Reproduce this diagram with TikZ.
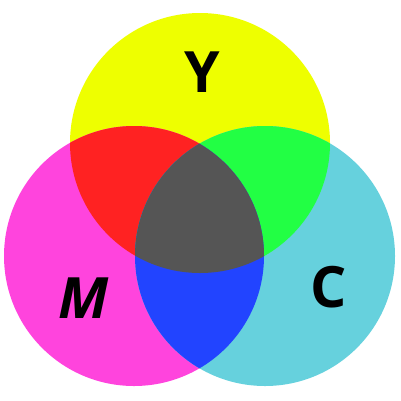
\documentclass[tikz,border=0pt]{standalone}
\usepackage{fontspec}
\setsansfont{Open Sans}
\usepackage{tikz}
\usetikzlibrary{positioning}
\definecolor{inkyellow}{RGB}{238,255,0}
\definecolor{inkmagenta}{RGB}{255,68,221}
\definecolor{inkcyan}{RGB}{102,209,221}
\definecolor{mixred}{RGB}{255,34,34}
\definecolor{mixgreen}{RGB}{34,255,68}
\definecolor{mixblue}{RGB}{34,68,255}
\definecolor{mixgray}{RGB}{85,85,85}

\begin{document}
\begin{tikzpicture}[
        x=1pt, y=-1pt,
        letter/.style={font=\sffamily\bfseries\fontsize{57}{60}\selectfont, inner sep=0pt, anchor=center}
    ]
        \useasboundingbox (0,0) rectangle (401,400);

        % Circles
        \fill[inkyellow] (200,143) circle (130);
        \fill[inkmagenta] (134,256) circle (130);
        \fill[inkcyan] (265,256) circle (130);

        % Yellow + Magenta
        \begin{scope}
            \clip (200,143) circle (130);
            \fill[mixred] (134,256) circle (130);
        \end{scope}

        % Yellow + Cyan
        \begin{scope}
            \clip (200,143) circle (130);
            \fill[mixgreen] (265,256) circle (130);
        \end{scope}

        % Magenta + Cyan
        \begin{scope}
            \clip (134,256) circle (130);
            \fill[mixblue] (265,256) circle (130);
        \end{scope}

        % All three
        \begin{scope}
            \clip (200,143) circle (130);
            \clip (134,256) circle (130);
            \fill[mixgray] (265,256) circle (130);
        \end{scope}

        % Labels
        \node[letter] (yellow) at (202,72) {Y};
        \node[letter, font=\sffamily\bfseries\itshape\fontsize{57}{60}\selectfont] (magenta) at (84,298) {M};
        \node[letter] (cyan) at (329,287) {C};

    \end{tikzpicture}
\end{document}
